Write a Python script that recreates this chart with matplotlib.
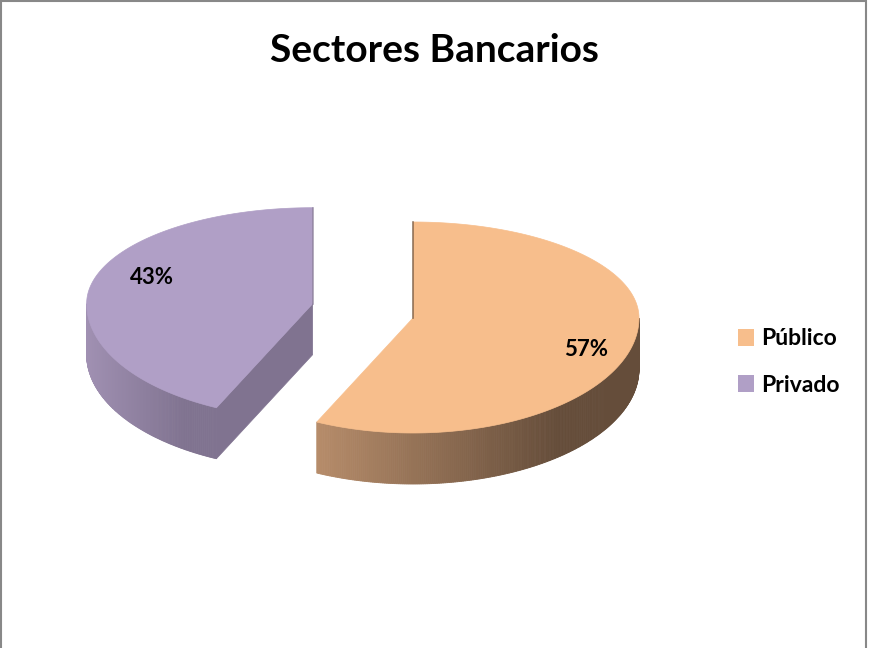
import numpy as np
import matplotlib.pyplot as plt
from matplotlib.patches import Polygon, Rectangle, Patch

titulo = 'Sectores Bancarios'
categorias = ['Público', 'Privado']
valores = [57, 43]
colores = ['#F7BE8C', '#B09FC6']
lado_claro = ['#B68C6A', '#A090B2']
lado_oscuro = ['#654D3A', '#807390']
separacion = [0.0, 0.455]

plt.rcParams['font.family'] = ['Lato', 'DejaVu Sans']

fig = plt.figure(figsize=(8.69, 6.48), dpi=100)
ax = fig.add_axes([0, 0, 1, 1])
ax.set_xlim(0, 869)
ax.set_ylim(648, 0)
ax.axis('off')

# geometria del pastel (en pixeles)
CX, CY = 413, 318
RX, RYB, RYF = 226, 96, 115
PROF = 51


def punto(cx, cy, r, ang):
    a = np.radians(ang)
    s = np.sin(a)
    ry = np.where(s > 0, RYB, RYF)
    return cx + r * RX * np.cos(a), cy - r * ry * s


def mezcla(c1, c2, t):
    a = np.array(plt.matplotlib.colors.to_rgb(c1))
    b = np.array(plt.matplotlib.colors.to_rgb(c2))
    return tuple(a + (b - a) * t)


total = sum(valores)
acum = np.concatenate([[0], np.cumsum(valores)])

for i in range(len(valores)):
    t1 = 90 - 360 * acum[i] / total
    t2 = 90 - 360 * acum[i + 1] / total
    medio = (t1 + t2) / 2
    ox, oy = punto(0, 0, separacion[i], medio)
    cx, cy = CX + ox, CY + oy * 1.5

    # caras de corte
    for t, normal in [(t1, t1 + 90), (t2, t2 - 90)]:
        ex, ey = punto(cx, cy, 1, t)
        if np.sin(np.radians(normal)) < -1e-6:
            ax.add_patch(Polygon([(cx, cy), (ex, ey), (ex, ey + PROF), (cx, cy + PROF)],
                                 closed=True, facecolor=lado_oscuro[i],
                                 edgecolor=lado_oscuro[i], lw=0.5))
        elif abs(np.sin(np.radians(normal))) < 1e-6:
            ax.plot([cx, ex], [cy, ey], color=lado_oscuro[i], lw=1.2, alpha=0.7)

    # pared exterior con degradado
    angs = np.linspace(t1, t2, 400)
    xs, ys = punto(cx, cy, 1, angs)
    medios = (angs[:-1] + angs[1:]) / 2
    frente = np.sin(np.radians(medios)) < 0
    if frente.any():
        xf = np.concatenate([xs[:-1][frente], xs[1:][frente]])
        x0, x1 = xf.min(), xf.max()
        for k in np.where(frente)[0]:
            xm = (xs[k] + xs[k + 1]) / 2
            t = np.clip((xm - x0) / (0.75 * (x1 - x0)), 0, 1)
            c = mezcla(lado_claro[i], lado_oscuro[i], t)
            ax.add_patch(Polygon([(xs[k], ys[k]), (xs[k + 1], ys[k + 1]),
                                  (xs[k + 1], ys[k + 1] + PROF), (xs[k], ys[k] + PROF)],
                                 closed=True, facecolor=c, edgecolor=c, lw=0.6))

    # cara superior
    ax.add_patch(Polygon([(cx, cy)] + list(zip(xs, ys)), closed=True,
                         facecolor=colores[i], edgecolor=colores[i], lw=0.5))

    # etiqueta de porcentaje
    lx, ly = punto(cx, cy, 0.79, medio - 8)
    ax.text(lx + 6, ly, f'{valores[i] / total * 100:.0f}%', ha='center', va='center',
            fontsize=16, fontweight='bold', color='black')

fig.text(0.5, 1 - 50 / 648, titulo, ha='center', va='center',
         fontsize=28, fontweight='bold')

handles = [Patch(facecolor=c, edgecolor='none') for c in colores]
fig.legend(handles, categorias, loc='center left',
           bbox_to_anchor=(717 / 869, 1 - 362 / 648), frameon=False,
           prop={'size': 16.5, 'weight': 'bold'}, handlelength=0.72,
           handleheight=0.72, handletextpad=0.3, labelspacing=1.1)

fig.patches.append(Rectangle((0.6 / 869, -0.05), 865.5 / 869, 1.05 - 0.6 / 648,
                             transform=fig.transFigure, fill=False,
                             edgecolor='#888888', lw=1.5))

fig.savefig('out.png', dpi=100)
